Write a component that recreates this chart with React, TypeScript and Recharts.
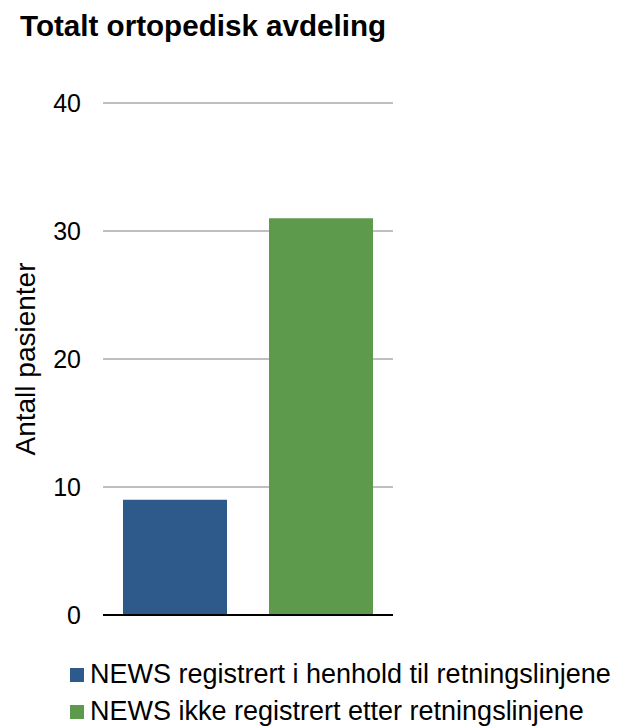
import React from 'react';
import { BarChart, Bar, XAxis, YAxis, CartesianGrid, Legend } from 'recharts';

const title = 'Totalt ortopedisk avdeling';
const categories = ['Totalt ortopedisk avdeling'];
const seriesNames = [
  'NEWS registrert i henhold til retningslinjene',
  'NEWS ikke registrert etter retningslinjene',
];
const registrert = [9];
const ikkeRegistrert = [31];
const yTicks = [0, 10, 20, 30, 40];
const yLabel = 'Antall pasienter';
const colors = ['#2E5A8B', '#5E9A4B'];

const data = categories.map((c, i) => ({
  name: c,
  registrert: registrert[i],
  ikkeRegistrert: ikkeRegistrert[i],
}));

const FONT = '"Liberation Sans", Arial, sans-serif';

const renderLegend = (props: any) => {
  const payload = [...(props.payload || [])].sort(
    (a: any, b: any) => seriesNames.indexOf(a.value) - seriesNames.indexOf(b.value)
  );
  return (
    <div style={{ fontFamily: FONT }}>
      {payload.map((entry: any, i: number) => (
        <div
          key={i}
          style={{ display: 'flex', alignItems: 'center', height: 37, whiteSpace: 'nowrap' }}
        >
          <span
            style={{
              display: 'inline-block',
              width: 14,
              height: 14,
              background: entry.color,
              marginRight: 6,
            }}
          />
          <span style={{ fontSize: 27, color: '#000' }}>{entry.value}</span>
        </div>
      ))}
    </div>
  );
};

export default function App() {
  return (
    <div style={{ position: 'absolute', left: 0, top: 0, width: 619, height: 726, background: '#fff' }}>
      <div
        style={{
          position: 'absolute',
          left: 20,
          top: 9,
          fontFamily: FONT,
          fontWeight: 'bold',
          fontSize: 29.6,
          lineHeight: 'normal',
          color: '#000',
          whiteSpace: 'nowrap',
          zIndex: 2,
        }}
      >
        {title}
      </div>
      <BarChart
        width={619}
        height={726}
        data={data}
        margin={{ top: 103, right: 226, bottom: 110, left: 0 }}
        barCategoryGap={20}
        barGap={42}
      >
        <CartesianGrid vertical={false} stroke="#BFBFBF" strokeWidth={2} />
        <XAxis
          dataKey="name"
          tick={false}
          tickLine={false}
          height={1}
          axisLine={{ stroke: '#000', strokeWidth: 2 }}
        />
        <YAxis
          width={103}
          domain={[0, 40]}
          ticks={yTicks}
          axisLine={false}
          tickLine={false}
          tickSize={0}
          tickMargin={22}
          tick={{ fontSize: 25, fill: '#000', fontFamily: FONT }}
          label={{
            value: yLabel,
            angle: -90,
            position: 'insideLeft',
            offset: 25,
            textAnchor: 'middle',
            style: { fontSize: 28, fill: '#000', fontFamily: FONT, textAnchor: 'middle' },
          }}
        />
        <Legend
          layout="vertical"
          align="center"
          verticalAlign="middle"
          content={renderLegend}
          wrapperStyle={{ left: 70, top: 656, width: 549, height: 74 }}
        />
        <Bar dataKey="registrert" name={seriesNames[0]} fill={colors[0]} isAnimationActive={false} />
        <Bar dataKey="ikkeRegistrert" name={seriesNames[1]} fill={colors[1]} isAnimationActive={false} />
      </BarChart>
    </div>
  );
}
